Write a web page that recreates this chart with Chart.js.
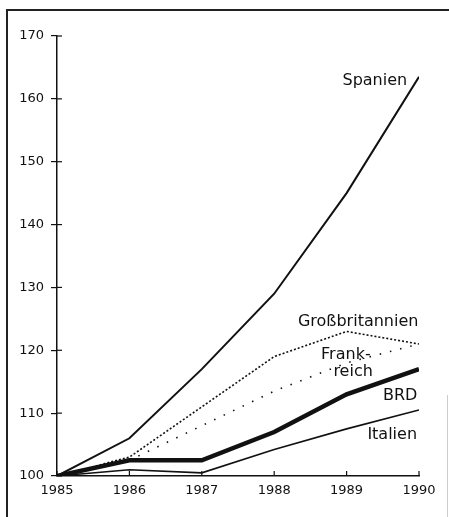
<!DOCTYPE html>
<html>
<head>
<meta charset="utf-8">
<script src="https://cdn.jsdelivr.net/npm/chart.js@4"></script>
<style>
  html, body { margin: 0; padding: 0; background: #fff; }
  #wrap { position: absolute; left: 0; top: 0; width: 449px; height: 517px; }
</style>
</head>
<body>
<div id="wrap"><canvas id="grafiek" width="449" height="517"></canvas></div>
<script>
// Jahre und Indexwerte (1985 = 100)
const jahre = [1985, 1986, 1987, 1988, 1989, 1990];
const spanien = [100, 106, 117, 129, 145, 163.5];
const grossbritannien = [100, 103, 111, 119, 123, 121];
const frankreich = [100, 102.5, 108, 113.5, 118, 121];
const brd = [100, 102.5, 102.5, 107, 113, 117];
const italien = [100, 101, 100.5, 104.2, 107.5, 110.5];

const yTicks = [100, 110, 120, 130, 140, 150, 160, 170];

// Beschriftungen an den Linien (Text, Jahr, Wert)
const beschriftungen = [
    { text: "Spanien", x: 1989.39, y: 162.8 },
    { text: "Großbritannien", x: 1989.16, y: 124.5 },
    { text: "Frank-", x: 1988.99, y: 119.2 },
    { text: "reich", x: 1989.09, y: 116.5 },
    { text: "BRD", x: 1989.74, y: 112.7 },
    { text: "Italien", x: 1989.63, y: 106.5 }
];

const FONT = "'DejaVu Sans', sans-serif";
const INK = '#111';

function punkte(werte) { return jahre.map((j, i) => ({ x: j, y: werte[i] })); }

const rahmenUndText = {
    id: 'rahmenUndText',
    afterDraw(chart) {
        const ctx = chart.ctx, xs = chart.scales.x, ys = chart.scales.y;
        ctx.save();
        // Rahmen
        ctx.strokeStyle = '#222';
        ctx.lineWidth = 2;
        ctx.beginPath();
        ctx.moveTo(7, 517); ctx.lineTo(7, 10); ctx.lineTo(449, 10);
        ctx.stroke();
        ctx.strokeStyle = '#ccc';
        ctx.lineWidth = 1;
        ctx.beginPath();
        ctx.moveTo(447.5, 395); ctx.lineTo(447.5, 517);
        ctx.stroke();

        // Achsenstriche nach innen
        ctx.strokeStyle = INK;
        ctx.lineWidth = 1.2;
        yTicks.forEach(v => {
            const py = ys.getPixelForValue(v);
            ctx.beginPath();
            ctx.moveTo(xs.left, py); ctx.lineTo(xs.left + 5, py);
            ctx.stroke();
        });
        jahre.forEach(j => {
            const px = xs.getPixelForValue(j);
            ctx.beginPath();
            ctx.moveTo(px, ys.bottom); ctx.lineTo(px, ys.bottom - 5);
            ctx.stroke();
        });

        // Linienbeschriftungen
        ctx.fillStyle = INK;
        ctx.font = "16px " + FONT;
        ctx.textAlign = 'center';
        ctx.textBaseline = 'middle';
        beschriftungen.forEach(b => {
            ctx.fillText(b.text, xs.getPixelForValue(b.x), ys.getPixelForValue(b.y));
        });
        ctx.restore();
    }
};

new Chart(document.getElementById('grafiek'), {
    type: 'line',
    data: {
        datasets: [
            { label: 'Spanien', data: punkte(spanien), borderColor: INK, borderWidth: 2 },
            { label: 'Großbritannien', data: punkte(grossbritannien), borderColor: INK, borderWidth: 1.6, borderDash: [2, 2] },
            { label: 'Frankreich', data: punkte(frankreich), borderColor: INK, borderWidth: 1.6, borderDash: [1.5, 9] },
            { label: 'BRD', data: punkte(brd), borderColor: INK, borderWidth: 4.5 },
            { label: 'Italien', data: punkte(italien), borderColor: INK, borderWidth: 1.6 }
        ]
    },
    options: {
        responsive: false,
        animation: false,
        elements: { point: { radius: 0 }, line: { tension: 0, borderCapStyle: 'butt' } },
        layout: { padding: { top: 36, right: 30, left: 0, bottom: 0 } },
        plugins: { legend: { display: false }, tooltip: { enabled: false } },
        scales: {
            x: {
                type: 'linear', min: 1985, max: 1990,
                afterFit: s => { s.height = 41; },
                afterBuildTicks: s => { s.ticks = jahre.map(v => ({ value: v })); },
                border: { color: INK, width: 1.5 },
                grid: { display: true, drawOnChartArea: false, drawTicks: false, color: INK },
                ticks: { color: INK, font: { family: FONT, size: 13 }, padding: 7, maxRotation: 0, callback: v => String(v) }
            },
            y: {
                min: 100, max: 170,
                afterFit: s => { s.width = 57; },
                afterBuildTicks: s => { s.ticks = yTicks.map(v => ({ value: v })); },
                border: { color: INK, width: 1.5 },
                grid: { display: true, drawOnChartArea: false, tickLength: 6, color: INK, lineWidth: 1.2 },
                ticks: { color: INK, font: { family: FONT, size: 13 }, padding: 7 }
            }
        }
    },
    plugins: [rahmenUndText]
});
</script>
</body>
</html>
